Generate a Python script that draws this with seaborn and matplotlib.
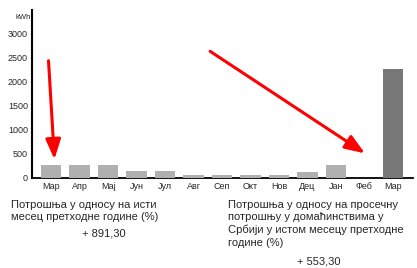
import matplotlib
matplotlib.use("Agg")
import matplotlib.pyplot as plt
import seaborn as sns
import pandas as pd

months = ["Мар", "Апр", "Мај", "Јун", "Јул", "Авг", "Сеп", "Окт", "Нов", "Дец", "Јан", "Феб", "Мар "]
values = [270, 270, 270, 135, 135, 55, 55, 55, 55, 130, 270, 0, 2270]
yticks = [0, 500, 1000, 1500, 2000, 2500, 3000]
left_text = "Потрошња у односу на исти\nмесец претходне године (%)"
left_value = "+ 891,30"
right_text = "Потрошња у односу на просечну\nпотрошњу у домаћинствима у\nСрбији у истом месецу претходне\nгодине (%)"
right_value = "+ 553,30"

sns.set_theme(style="white")
plt.rcParams['font.family'] = ['Liberation Sans', 'DejaVu Sans']

df = pd.DataFrame({"month": months, "value": values})
colors = ["#b0b0b0"] * (len(months) - 1) + ["#787878"]

fig = plt.figure(figsize=(4.17, 2.68), dpi=100)
ax = fig.add_axes([0.077, 0.336, 0.913, 0.627])
sns.barplot(data=df, x="month", y="value", hue="month", palette=colors,
            legend=False, width=0.72, ax=ax, saturation=1, zorder=3, linewidth=0)
ax.set_xlim(-0.67, 12.7)
ax.set_ylim(0, 3500)
ax.set_yticks(yticks)
ax.set_yticklabels([str(t) for t in yticks], fontsize=6.5)
ax.set_xticks(range(len(months)))
ax.set_xticklabels([m.strip() for m in months], fontsize=6.5)
ax.set_xlabel("")
ax.set_ylabel("")
ax.tick_params(axis="both", length=0, pad=3)
for s in ["top", "right"]:
    ax.spines[s].set_visible(False)
ax.spines["left"].set_color("black")
ax.spines["left"].set_linewidth(1.5)
ax.spines["bottom"].set_color("black")
ax.spines["bottom"].set_linewidth(1.3)
ax.spines["bottom"].set_zorder(1)
ax.text(-0.72, 3350, "kWh", fontsize=5.5, ha="right", va="center")

arrow = dict(arrowstyle="-|>,head_width=0.38,head_length=1.0", color="red", lw=2.2)
ax.annotate("", xy=(0.12, 330), xytext=(-0.1, 2500), arrowprops=arrow)
ax.annotate("", xy=(11.1, 480), xytext=(5.5, 2670), arrowprops=arrow)

fs = 8.0
ls = 1.3
fig.text(11/417, 1 - 200/268, left_text, fontsize=fs, ha="left", va="top", linespacing=ls)
fig.text(104/417, 1 - 228/268, left_value, fontsize=fs, ha="center", va="top")
fig.text(228/417, 1 - 200/268, right_text, fontsize=fs, ha="left", va="top", linespacing=ls)
fig.text(319/417, 1 - 257/268, right_value, fontsize=fs, ha="center", va="top")

fig.savefig("out.png", dpi=100)
